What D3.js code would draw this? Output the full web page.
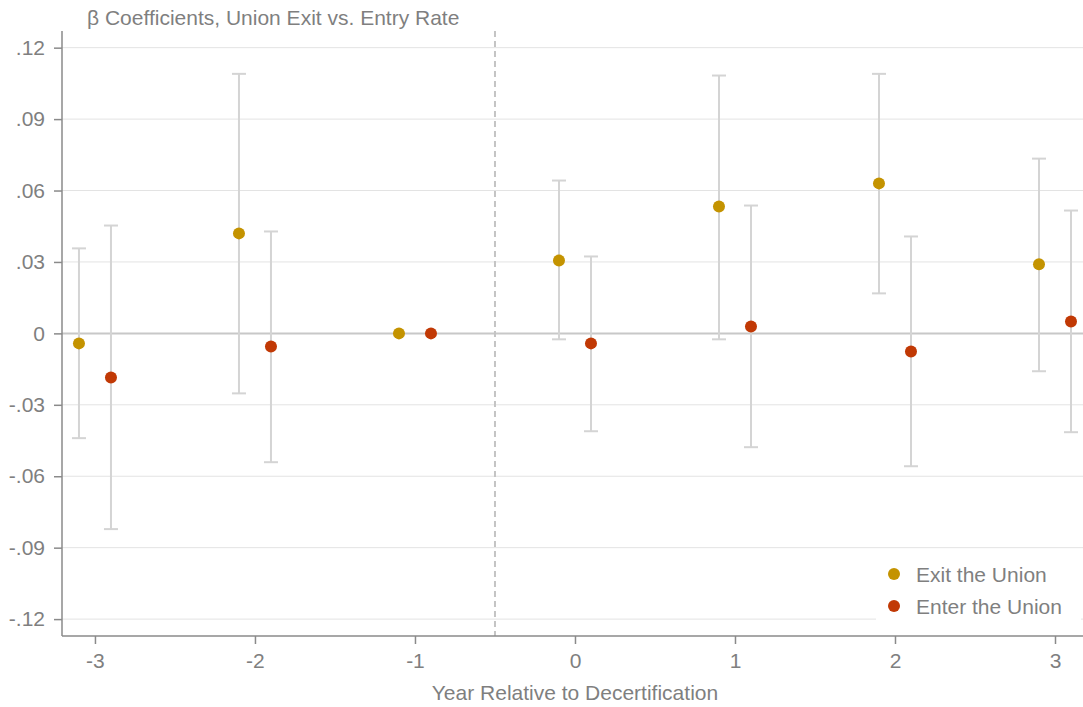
<!DOCTYPE html>
<html>
<head>
<meta charset="utf-8">
<script src="https://cdn.jsdelivr.net/npm/d3@7"></script>
<style>
  body { margin: 0; background: #fff; }
  text { font-family: "Liberation Sans", Arial, sans-serif; fill: #7f7f7f; }
</style>
</head>
<body>
<div id="chart"></div>
<script>
// event years and estimates
const years = [-3, -2, -1, 0, 1, 2, 3];
const exitCoef = [-0.0042, 0.042, 0, 0.0306, 0.0533, 0.063, 0.029];
const exitLo = [-0.044, -0.0252, null, -0.0025, -0.0025, 0.0168, -0.0159];
const exitHi = [0.0357, 0.109, null, 0.0642, 0.1083, 0.109, 0.0734];
const enterCoef = [-0.0185, -0.0055, 0, -0.0042, 0.0029, -0.0076, 0.005];
const enterLo = [-0.0822, -0.0541, null, -0.0411, -0.0478, -0.0558, -0.0415];
const enterHi = [0.0453, 0.0428, null, 0.0323, 0.0537, 0.0407, 0.0516];
const yTicks = [0.12, 0.09, 0.06, 0.03, 0, -0.03, -0.06, -0.09, -0.12];
const yLabels = [".12", ".09", ".06", ".03", "0", "-.03", "-.06", "-.09", "-.12"];
const seriesNames = ["Exit the Union", "Enter the Union"];
const colors = ["#c49300", "#c13905"];

const width = 1083, height = 707;
const m = { left: 62, right: 1083, top: 31, bottom: 636 };
const fontFam = '"Liberation Sans", Arial, sans-serif';

const svg = d3.select("#chart").append("svg").attr("width", width).attr("height", height);

const x = d3.scaleLinear().domain([-3.206, 3.175]).range([m.left, m.right]);
const y = d3.scaleLinear().domain([-0.1271, 0.127]).range([m.bottom, m.top]);

// grid
svg.append("g").selectAll("line").data(yTicks.filter(d => d !== 0)).enter().append("line")
  .attr("x1", m.left).attr("x2", m.right)
  .attr("y1", d => y(d)).attr("y2", d => y(d))
  .attr("stroke", "#e3e3e3").attr("stroke-width", 1);

// zero line
svg.append("line")
  .attr("x1", m.left).attr("x2", m.right).attr("y1", y(0)).attr("y2", y(0))
  .attr("stroke", "#c8c8c8").attr("stroke-width", 2);

// treatment line
svg.append("line")
  .attr("x1", x(-0.5)).attr("x2", x(-0.5)).attr("y1", m.top).attr("y2", m.bottom)
  .attr("stroke", "#c4c4c4").attr("stroke-width", 2).attr("stroke-dasharray", "6,4");

// axes
const yAxis = d3.axisLeft(y).tickValues(yTicks).tickFormat((d, i) => yLabels[i]).tickSize(8).tickPadding(9);
const gy = svg.append("g").attr("transform", `translate(${m.left},0)`).call(yAxis);
gy.select(".domain").attr("stroke", "#8a8a8a").attr("stroke-width", 1.5).attr("d", `M0,${m.top}V${m.bottom}`);
gy.selectAll(".tick line").attr("stroke", "#8a8a8a").attr("stroke-width", 1.5);
gy.selectAll(".tick text").style("font-size", "21px").attr("fill", "#7f7f7f").style("font-family", fontFam);

const xAxis = d3.axisBottom(x).tickValues(years).tickFormat(d => d).tickSize(8).tickPadding(9);
const gx = svg.append("g").attr("transform", `translate(0,${m.bottom})`).call(xAxis);
gx.select(".domain").attr("stroke", "#8a8a8a").attr("stroke-width", 1.5).attr("d", `M${m.left},0H${m.right}`);
gx.selectAll(".tick line").attr("stroke", "#8a8a8a").attr("stroke-width", 1.5);
gx.selectAll(".tick text").style("font-size", "21px").attr("fill", "#7f7f7f").style("font-family", fontFam);

// titles
svg.append("text").attr("x", 87).attr("y", 25).style("font-size", "21px")
  .text("\u03B2 Coefficients, Union Exit vs. Entry Rate");
svg.append("text").attr("x", x(0)).attr("y", 700).attr("text-anchor", "middle").style("font-size", "21px")
  .text("Year Relative to Decertification");

// series
const series = [
  years.map((yr, i) => ({ x: yr - 0.1, v: exitCoef[i], lo: exitLo[i], hi: exitHi[i] })),
  years.map((yr, i) => ({ x: yr + 0.1, v: enterCoef[i], lo: enterLo[i], hi: enterHi[i] }))
];

series.forEach((data, k) => {
  const g = svg.append("g");
  const ci = data.filter(d => d.lo !== null);
  g.selectAll("line.ci").data(ci).enter().append("line")
    .attr("x1", d => x(d.x)).attr("x2", d => x(d.x))
    .attr("y1", d => y(d.lo)).attr("y2", d => y(d.hi))
    .attr("stroke", "#d4d4d4").attr("stroke-width", 2);
  g.selectAll("line.capHi").data(ci).enter().append("line")
    .attr("x1", d => x(d.x) - 7).attr("x2", d => x(d.x) + 7)
    .attr("y1", d => y(d.hi)).attr("y2", d => y(d.hi))
    .attr("stroke", "#d4d4d4").attr("stroke-width", 2);
  g.selectAll("line.capLo").data(ci).enter().append("line")
    .attr("x1", d => x(d.x) - 7).attr("x2", d => x(d.x) + 7)
    .attr("y1", d => y(d.lo)).attr("y2", d => y(d.lo))
    .attr("stroke", "#d4d4d4").attr("stroke-width", 2);
});

series.forEach((data, k) => {
  svg.append("g").selectAll("circle").data(data).enter().append("circle")
    .attr("cx", d => x(d.x)).attr("cy", d => y(d.v)).attr("r", 6)
    .attr("fill", colors[k]);
});

// legend
const lg = svg.append("g");
lg.append("rect").attr("x", 876).attr("y", 555).attr("width", 205).attr("height", 68).attr("fill", "#fff");
seriesNames.forEach((name, i) => {
  lg.append("circle").attr("cx", 894).attr("cy", 574 + i * 32).attr("r", 6).attr("fill", colors[i]);
  lg.append("text").attr("x", 916).attr("y", 582 + i * 32).style("font-size", "21px").text(name);
});
</script>
</body>
</html>
